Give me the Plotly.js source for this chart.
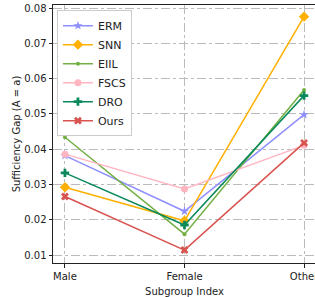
<!DOCTYPE html>
<html><head><meta charset="utf-8">
<script src="https://cdn.plot.ly/plotly-3.0.1.min.js"></script>
<style>html,body{margin:0;padding:0;overflow:hidden;background:#fff}</style>
</head><body><div id="chart" style="width:335px;height:297px"></div>
<script>
const categories = ["Male", "Female", "Other"];
const methods = ["ERM", "SNN", "EIIL", "FSCS", "DRO", "Ours"];
const ERM  = [0.0382, 0.0224, 0.0498];
const SNN  = [0.0292, 0.0197, 0.0776];
const EIIL = [0.0434, 0.0159, 0.0568];
const FSCS = [0.0386, 0.0287, 0.0411];
const DRO  = [0.0333, 0.0185, 0.0552];
const Ours = [0.0266, 0.0114, 0.0418];
const series = [ERM, SNN, EIIL, FSCS, DRO, Ours];
const colors = ["#8f8fff", "#ffb000", "#72b043", "#ffb6c1", "#0a8a5a", "#d9534f"];
const symbols = ["star", "diamond", "circle", "circle", "cross", "x"];
const sizes = [7, 8, 4, 7, 7, 7];
const xIdx = [0, 1, 2];

const traces = methods.map((m, i) => ({
  x: xIdx, y: series[i], name: m, type: "scatter", mode: "lines+markers",
  line: {color: colors[i], width: 1.5},
  marker: {color: colors[i], symbol: symbols[i], size: sizes[i], line: {width: 0}}
}));

const font = {family: "DejaVu Sans", size: 10, color: "#222"};
Plotly.newPlot("chart", traces, {
  width: 335, height: 297,
  margin: {l: 53, r: 19, t: 5, b: 34},
  paper_bgcolor: "#fff", plot_bgcolor: "#fff",
  font: font,
  showlegend: true,
  legend: {x: 0.015, y: 0.98, xanchor: "left", yanchor: "top",
    bgcolor: "#fff", bordercolor: "#ccc", borderwidth: 1,
    font: {family: "DejaVu Sans", size: 11, color: "#222"}, tracegroupgap: 0},
  xaxis: {range: [-0.1, 2.1], tickvals: xIdx, ticktext: categories,
    showline: true, linecolor: "#222", linewidth: 1, mirror: true,
    ticks: "outside", ticklen: 3.5, tickcolor: "#222", automargin: false,
    showgrid: true, gridcolor: "#bbb", griddash: "dashdot", gridwidth: 1, zeroline: false,
    title: {text: "Subgroup Index", font: font}},
  yaxis: {range: [0.00773, 0.0809], tickvals: [0.01,0.02,0.03,0.04,0.05,0.06,0.07,0.08],
    tickformat: ".2f", automargin: false,
    showline: true, linecolor: "#222", linewidth: 1, mirror: true,
    ticks: "outside", ticklen: 3.5, tickcolor: "#222",
    showgrid: true, gridcolor: "#bbb", griddash: "dashdot", gridwidth: 1, zeroline: false,
    title: {text: "Sufficiency Gap (A = a)", font: font}}
}, {displayModeBar: false, staticPlot: true});
</script></body></html>
